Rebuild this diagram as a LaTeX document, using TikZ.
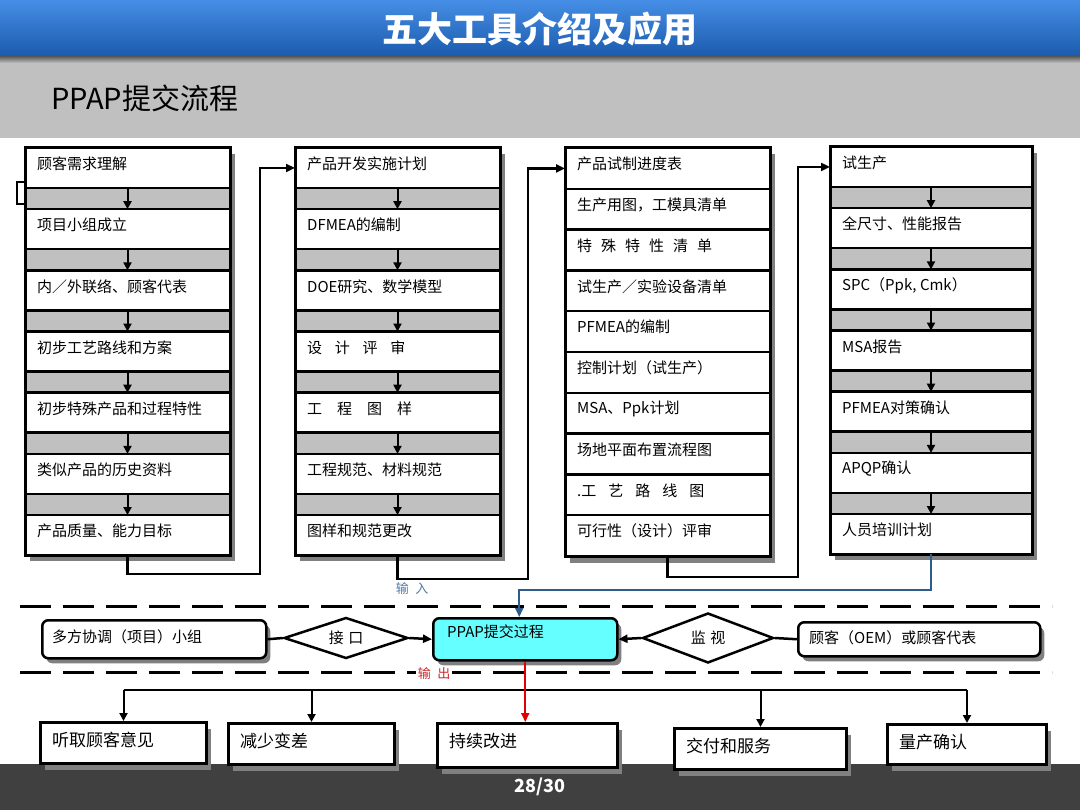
\documentclass[tikz,border=0pt]{standalone}
\usepackage{fontspec}
\setmainfont{Noto Sans CJK SC}
\usetikzlibrary{shapes.geometric,arrows.meta,calc,shadows}
\definecolor{hdrtop}{RGB}{70,142,230}
\definecolor{hdrbot}{RGB}{26,90,172}
\definecolor{bandgray}{RGB}{192,192,192}
\definecolor{footgray}{RGB}{64,64,64}
\definecolor{shadowgray}{RGB}{128,128,128}
\definecolor{ppcyan}{RGB}{102,255,255}
\definecolor{inblue}{RGB}{46,92,140}
\definecolor{inlabel}{RGB}{84,124,164}
\definecolor{outred}{RGB}{225,0,0}
\definecolor{outlabel}{RGB}{205,40,40}
\tikzset{
  wbox/.style={draw=black, line width=2.5pt, fill=white, minimum height=40pt, inner sep=0pt, outer sep=0pt, anchor=north west},
  txt/.style={anchor=west, inner sep=0pt, font=\fontsize{15}{18}\selectfont},
  btxt/.style={anchor=west, inner sep=0pt, font=\fontsize{17}{20}\selectfont},
  frame/.style={draw=black, line width=3pt},
  darr/.style={draw=black, line width=2pt, -{Triangle[length=8pt,width=8pt]}},
  conn/.style={draw=black, line width=2.5pt, -{Triangle[length=9pt,width=8pt]}},
  bluec/.style={draw=inblue, line width=2pt, -{Triangle[length=9pt,width=8pt]}},
  redarr/.style={draw=outred, line width=2pt, -{Triangle[length=9pt,width=8pt]}},
  plainline/.style={draw=black, line width=2.5pt},
  dashline/.style={draw=black, line width=3pt, dash pattern=on 31pt off 12pt},
  rbox/.style={draw=black, line width=2.5pt, rounded corners=6pt, fill=white, inner sep=0pt, anchor=north west,
    drop shadow={shadow xshift=4pt, shadow yshift=-5pt, fill=shadowgray, opacity=1}},
  diam/.style={diamond, draw=black, line width=2.5pt, aspect=3, inner sep=0pt, fill=white, font=\fontsize{15}{18}\selectfont},
  bbox/.style={draw=black, line width=3pt, fill=white, inner sep=0pt, anchor=north west,
    drop shadow={shadow xshift=4pt, shadow yshift=-6pt, fill=shadowgray, opacity=1}},
}
\begin{document}
\begin{tikzpicture}[x=1pt,y=-1pt]
\useasboundingbox (0,0) rectangle (1080,810);
\fill[white] (0,0) rectangle (1080,810);
% header
\shade[top color=hdrtop, bottom color=hdrbot] (0,0) rectangle (1080,57);
\fill[bandgray] (0,57) rectangle (1080,138);
\shade[top color=black!60, bottom color=bandgray] (0,57) rectangle (1080,63);
\node[text=white, font=\fontsize{35}{40}\selectfont\bfseries, inner sep=0pt] (title) at (540,29) {五大工具介绍及应用};
\node[anchor=west, text=black, font=\fontsize{29}{34}\selectfont, inner sep=0pt] (subtitle) at (51,98) {PPAP提交流程};
% footer
\fill[footgray] (0,764) rectangle (1080,810);
\node[text=white, font=\fontsize{18}{22}\selectfont\bfseries, inner sep=0pt] (page) at (540,787) {28/30};

% small artifact box at left
\draw[line width=1.5pt] (17,182) rectangle (25,204);

% ---------- column 1 ----------
\fill[shadowgray] (30,154) rectangle (235,561);
\foreach \i in {1,...,6}{\fill[bandgray] (25,{148+61.17*(\i-1)+40}) rectangle (230,{148+61.17*\i});}
\foreach \t [count=\i] in {顾客需求理解,项目小组成立,内／外联络、顾客代表,初步工艺路线和方案,初步特殊产品和过程特性,类似产品的历史资料,产品质量、能力目标}{
  \node[wbox, minimum width=205pt] (a\i) at (25,{148+61.17*(\i-1)}) {};
  \node[txt] (ta\i) at ($(a\i.north west)+(12,16)$) {\t};
}
\draw[frame] (a1.north west) rectangle (a7.south east);
\foreach \i [evaluate=\i as \j using int(\i+1)] in {1,...,6}{\draw[darr] (a\i.south) -- (a\j.north);}

% ---------- column 2 ----------
\fill[shadowgray] (300,154) rectangle (505,561);
\foreach \i in {1,...,6}{\fill[bandgray] (295,{148+61.17*(\i-1)+40}) rectangle (500,{148+61.17*\i});}
\foreach \t [count=\i] in {产品开发实施计划,DFMEA的编制,DOE研究、数学模型,{设\hspace{0.85em}计\hspace{0.85em}评\hspace{0.85em}审},{工\hspace{1em}程\hspace{1em}图\hspace{1em}样},工程规范、材料规范,图样和规范更改}{
  \node[wbox, minimum width=205pt] (b\i) at (295,{148+61.17*(\i-1)}) {};
  \node[txt] (tb\i) at ($(b\i.north west)+(12,16)$) {\t};
}
\draw[frame] (b1.north west) rectangle (b7.south east);
\foreach \i [evaluate=\i as \j using int(\i+1)] in {1,...,6}{\draw[darr] (b\i.south) -- (b\j.north);}

% ---------- column 3 ----------
\fill[shadowgray] (570,154) rectangle (775,563);
\foreach \t [count=\i] in {产品试制进度表,生产用图，工模具清单,{特\hspace{0.6em}殊\hspace{0.6em}特\hspace{0.6em}性\hspace{0.6em}清\hspace{0.6em}单},试生产／实验设备清单,PFMEA的编制,控制计划（试生产）,MSA、Ppk计划,场地平面布置流程图,{.工\hspace{0.8em}艺\hspace{0.8em}路\hspace{0.8em}线\hspace{0.8em}图},可行性（设计）评审}{
  \node[wbox, minimum width=205pt, minimum height=40.8pt] (c\i) at (565,{148+40.8*(\i-1)}) {};
  \node[txt] (tc\i) at ($(c\i.north west)+(12,16)$) {\t};
}
\draw[frame] (c1.north west) rectangle (c10.south east);

% ---------- column 4 ----------
\fill[shadowgray] (835,153) rectangle (1037,560);
\foreach \i in {1,...,6}{\fill[bandgray] (830,{147+61.17*(\i-1)+40}) rectangle (1032,{147+61.17*\i});}
\foreach \t [count=\i] in {试生产,全尺寸、性能报告,{SPC（Ppk, Cmk）},MSA报告,PFMEA对策确认,APQP确认,人员培训计划}{
  \node[wbox, minimum width=202pt] (d\i) at (830,{147+61.17*(\i-1)}) {};
  \node[txt] (td\i) at ($(d\i.north west)+(12,16)$) {\t};
}
\draw[frame] (d1.north west) rectangle (d7.south east);
\foreach \i [evaluate=\i as \j using int(\i+1)] in {1,...,6}{\draw[darr] (d\i.south) -- (d\j.north);}

% ---------- column links ----------
\draw[conn] (a7.south) |- (260,574) |- (b1.west);
\draw[conn] (b7.south) |- (528,579) |- (c1.west);
\draw[conn] (c10.south) |- (798,577) |- (d1.west);

% ---------- middle row ----------
\draw[dashline] (20,606) -- (1052,606);
\draw[dashline] (20,672) -- (1052,672);

\node[rbox, minimum width=224pt, minimum height=38pt] (team) at (41,619) {};
\node[txt] (tteam) at ($(team.west)+(11,-2)$) {多方协调（项目）小组};
\node[diam, minimum width=124pt, minimum height=41pt] (jk) at (346,638) {接\hspace{0.3em}口};
\node[rbox, fill=ppcyan, minimum width=184pt, minimum height=42pt] (ppap) at (432,617) {};
\node[txt] (tppap) at ($(ppap.north west)+(15,15)$) {PPAP提交过程};
\node[diam, minimum width=131pt, minimum height=50pt] (jsh) at (708,638) {监\hspace{0.3em}视};
\node[rbox, minimum width=242pt, minimum height=34pt] (oem) at (797,621) {};
\node[txt] (toem) at ($(oem.west)+(12,-1)$) {顾客（OEM）或顾客代表};

\draw[plainline] (team.east) -- (jk.west);
\draw[conn, line width=2.5pt] (jk.east) -- (ppap.west);
\draw[conn, line width=2.5pt] (jsh.west) -- (ppap.east);
\draw[plainline] (oem.west) -- (jsh.east);

% input (blue) and labels
\draw[bluec] (d7.south) |- ($(ppap.north)+(-6,-27)$) -- ($(ppap.north)+(-6,0)$);
\node[font=\fontsize{13}{15}\selectfont, text=inlabel, inner sep=0pt] (inlbl) at (412,589) {输\hspace{0.5em}入};
\node[font=\fontsize{13}{15}\selectfont, text=outlabel, fill=white, inner sep=1.5pt] (outlbl) at (434,674) {输\hspace{0.5em}出};

% ---------- bottom row ----------
\node[bbox, minimum width=166pt, minimum height=41pt] (bot1) at (39,721) {};
\node[bbox, minimum width=166pt, minimum height=41pt] (bot2) at (227,722) {};
\node[bbox, minimum width=180pt, minimum height=44pt] (bot3) at (436,722) {};
\node[bbox, minimum width=172pt, minimum height=41pt] (bot4) at (673,727) {};
\node[bbox, minimum width=159pt, minimum height=40pt] (bot5) at (886,723) {};
\node[btxt] (tbot1) at ($(bot1.north west)+(13,19)$) {听取顾客意见};
\node[btxt] (tbot2) at ($(bot2.north west)+(13,19)$) {减少变差};
\node[btxt] (tbot3) at ($(bot3.north west)+(13,19)$) {持续改进};
\node[btxt] (tbot4) at ($(bot4.north west)+(13,19)$) {交付和服务};
\node[btxt] (tbot5) at ($(bot5.north west)+(13,19)$) {量产确认};

\coordinate (busy) at (0,690);
\draw[line width=2pt] (bot1.north |- busy) -- (bot5.north |- busy);
\foreach \k in {1,2,4,5}{\draw[darr] (bot\k.north |- busy) -- (bot\k.north);}
\draw[redarr] (ppap.south) -- (ppap.south |- bot3.north);
\end{tikzpicture}
\end{document}
